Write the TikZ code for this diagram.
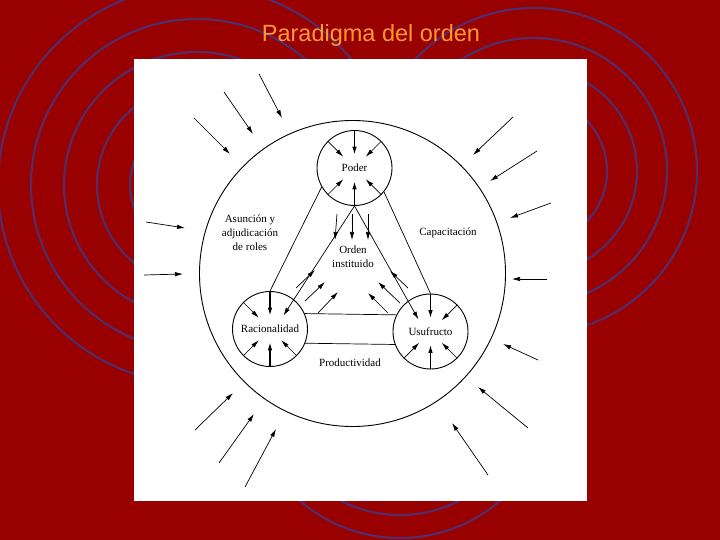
\documentclass[tikz,border=0pt]{standalone}
\usepackage{fontspec}
\setmainfont{Liberation Serif}
\newfontfamily\titlefont{Liberation Sans}
\usetikzlibrary{arrows.meta, calc}
\definecolor{fondoRojo}    {HTML}{990000}
\definecolor{ondaAzul}     {HTML}{532C68}
\definecolor{tituloNaranja}{HTML}{FF9933}
\tikzset{
  circulo/.style = {circle, draw=black, line width=0.9pt, minimum size=75pt,
                    inner sep=0pt},
  flecha/.style  = {-{Latex[length=8pt,width=4.5pt]}, line width=0.7pt},
  flechagruesa/.style = {flecha, line width=1.3pt},
  enlace/.style  = {line width=0.7pt},
  onda/.style    = {draw=ondaAzul, line width=2.2pt},
}

\begin{document}
\begin{tikzpicture}[x=1pt, y=-1pt,
  every node/.style={font=\fontsize{11}{14}\selectfont},
]

% Background and rings
\fill[fondoRojo] (0,0) rectangle (720,540);
\useasboundingbox (0,0) rectangle (720,540);
\begin{scope}
\clip (0,0) rectangle (720,540);
\foreach \r in {199,166,133,100,67}
  \draw[onda] (197,185) circle[radius=\r];
\foreach \r in {163,133,103,73}
  \draw[onda] (534,171) circle[radius=\r];
\foreach \r in {153,130}
  \draw[onda] (400,385) circle[radius=\r];
\end{scope}

% White panel and title
\fill[white] (134,59) rectangle (587,501);
\node[font=\titlefont\fontsize{23.5}{28}\selectfont, text=tituloNaranja]
  (titulo) at (371,35) {Paradigma del orden};

% Circles and texts
\node[circle, draw, line width=0.9pt, minimum size=306pt] (marco) at (352.5,273.5) {};
\node[circulo] (poder)     at (354.5,168) {Poder};
\node[circulo] (racional)  at (270,329)   {Racionalidad};
\node[circulo] (usufructo) at (430.5,331.5) {Usufructo};
\node[align=center] (orden)   at (353,257) {Orden\\instituido};
\node[align=center] (roles)   at (250,233) {Asunción y\\adjudicación\\de roles};
\node (capac)   at (448,233) {Capacitación};
\node (product) at (350,363) {Productividad};

% Arrows inside the small circles
\foreach \a in {45,135,225,315}
  \draw[flecha] (poder.\a) -- ($(poder.center)!0.42!(poder.\a)$);
\foreach \a in {135,225,315}
  \draw[flecha] (racional.\a) -- ($(racional.center)!0.42!(racional.\a)$);
\foreach \a in {45,225,315}
  \draw[flecha] (usufructo.\a) -- ($(usufructo.center)!0.42!(usufructo.\a)$);
\foreach \n in {poder,racional,usufructo}{
  \draw[flechagruesa] (\n.90)  -- ($(\n.center)!0.35!(\n.90)$);
  \draw[flechagruesa] (\n.270) -- ($(\n.center)!0.35!(\n.270)$);
}

% Links between the circles
\draw[enlace] (poder.210) -- (racional.90);
\draw[enlace] (poder.321) -- (usufructo.90);
\draw[flecha] (poder.270) -- ($(racional.center)!0.5!(racional.45)$);
\draw[flecha] (poder.270) -- ($(usufructo.center)!0.45!(usufructo.135)$);
\draw[enlace] (racional.24)  -- (usufructo.154);
\draw[enlace] (racional.338) -- (usufructo.200);

% Arrows towards the instituted order
\foreach \n/\xa/\ya/\xb/\yb in {a/337/214/335/240, b/352/214/352/240,
    c/368/214/368/240, d/296/288/315/270, e/305/301/325/282,
    f/318/313/338/292, g/408/288/390/271, h/400/303/378/282,
    i/388/313/368/293}{
  \coordinate (o\n) at (\xa,\ya);
  \coordinate (t\n) at (\xb,\yb);
  \draw[flecha] (o\n) -- (t\n);
}

% Arrows from outside
\foreach \n/\xa/\ya/\xb/\yb in {1/259/74/282/118, 2/224/92/253/134,
    3/194/118/230/154, 4/146/222/185/228, 5/144/275/183/274,
    6/195/430/233/393, 7/219/463/254/414, 8/245/487/276/429,
    9/488/475/452/423, 10/528/428/478/387, 11/538/360/503/344,
    12/547/279/512/279, 13/551/203/510/218, 14/537/151/490/181,
    15/513/117/473/155}{
  \coordinate (e\n) at (\xa,\ya);
  \coordinate (f\n) at (\xb,\yb);
  \draw[flecha] (e\n) -- (f\n);
}

\end{tikzpicture}
\end{document}
